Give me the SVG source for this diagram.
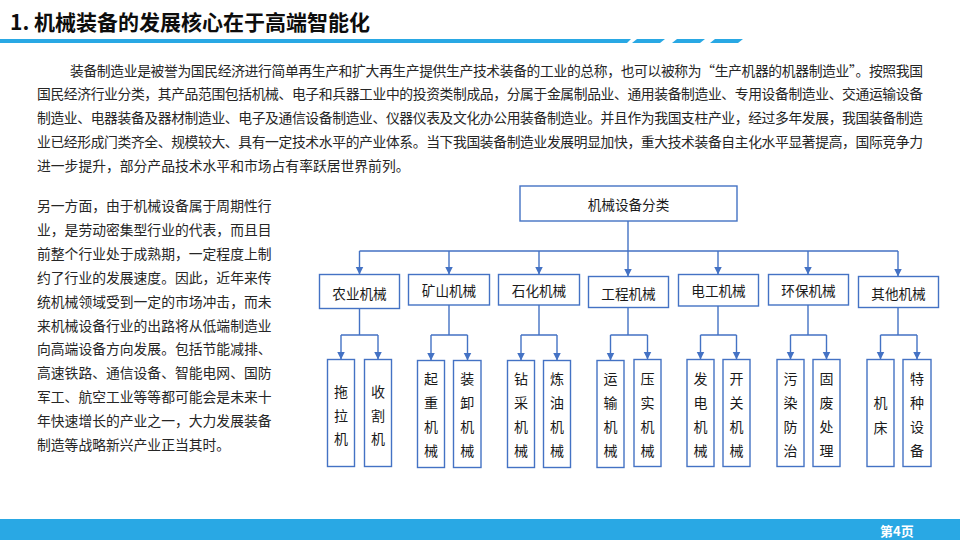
<svg xmlns="http://www.w3.org/2000/svg" width="960" height="540" viewBox="0 0 960 540">
<defs>
<style>
text{font-family:"Noto Sans CJK SC","Microsoft YaHei","Liberation Sans",sans-serif;dominant-baseline:central;fill:#262626}
.title{font-size:21px;font-weight:bold;fill:#0d0d0d;dominant-baseline:auto}
.p{font-size:13.8px}
.box{fill:#fff;stroke:#4472C4;stroke-width:1.4}
.lbl{font-size:13.6px;text-anchor:middle;fill:#1a1a1a}
.v{font-size:14px;text-anchor:middle;fill:#1a1a1a}
.ln{fill:none;stroke:#4472C4;stroke-width:1.4}
.arr{fill:none;stroke:#4472C4;stroke-width:1.4;marker-end:url(#ah)}
.bar{fill:#29A8E4}
</style>
<marker id="ah" markerUnits="userSpaceOnUse" markerWidth="10" markerHeight="10" refX="8" refY="4" orient="auto">
<path d="M0,0 L8,4 L0,8 z" fill="#4472C4"/>
</marker>
</defs>
<rect width="960" height="540" fill="#fff"/>
<g id="header">
<text class="title" x="10" y="30">1. 机械装备的发展核心在于高端智能化</text>
<polygon class="bar" points="0,39 631,39 627,43 0,43"/>
<polygon class="bar" points="632,43 637,39 665,39 660,43"/>
<polygon class="bar" points="672,43 677,39 705,39 700,43"/>
<polygon class="bar" points="710,43 715,39 743,39 738,43"/>
</g>
<g id="intro">
<text class="p" x="70" y="69.5" textLength="853" lengthAdjust="spacing">装备制造业是被誉为国民经济进行简单再生产和扩大再生产提供生产技术装备的工业的总称，也可以被称为“生产机器的机器制造业”。按照我国</text>
<text class="p" x="37" y="93.3" textLength="886" lengthAdjust="spacing">国民经济行业分类，其产品范围包括机械、电子和兵器工业中的投资类制成品，分属于金属制品业、通用装备制造业、专用设备制造业、交通运输设备</text>
<text class="p" x="37" y="117.1" textLength="886" lengthAdjust="spacing">制造业、电器装备及器材制造业、电子及通信设备制造业、仪器仪表及文化办公用装备制造业。并且作为我国支柱产业，经过多年发展，我国装备制造</text>
<text class="p" x="37" y="140.9" textLength="886" lengthAdjust="spacing">业已经形成门类齐全、规模较大、具有一定技术水平的产业体系。当下我国装备制造业发展明显加快，重大技术装备自主化水平显著提高，国际竞争力</text>
<text class="p" x="37" y="164.7">进一步提升，部分产品技术水平和市场占有率跃居世界前列。</text>
</g>
<g id="side">
<text class="p" x="37" y="205">另一方面，由于机械设备属于周期性行</text>
<text class="p" x="37" y="228.9">业，是劳动密集型行业的代表，而且目</text>
<text class="p" x="37" y="252.8">前整个行业处于成熟期，一定程度上制</text>
<text class="p" x="37" y="276.7">约了行业的发展速度。因此，近年来传</text>
<text class="p" x="37" y="300.6">统机械领域受到一定的市场冲击，而未</text>
<text class="p" x="37" y="324.5">来机械设备行业的出路将从低端制造业</text>
<text class="p" x="37" y="348.4">向高端设备方向发展。包括节能减排、</text>
<text class="p" x="37" y="372.3">高速铁路、通信设备、智能电网、国防</text>
<text class="p" x="37" y="396.2">军工、航空工业等等都可能会是未来十</text>
<text class="p" x="37" y="420.1">年快速增长的产业之一，大力发展装备</text>
<text class="p" x="37" y="444">制造等战略新兴产业正当其时。</text>
</g>
<g id="connectors">
<path class="ln" d="M628,221 V251 M359.5,251 H898"/>
<path class="arr" d="M359.5,251 V274.5"/>
<path class="arr" d="M449,251 V274.5"/>
<path class="arr" d="M539,251 V274.5"/>
<path class="arr" d="M628,251 V276.5"/>
<path class="arr" d="M718,251 V274.5"/>
<path class="arr" d="M808,251 V274.5"/>
<path class="arr" d="M898,251 V276.5"/>
<path class="ln" d="M359.5,308.5 V335 M341,335 H378 M449,305 V335 M431,335 H467.5 M539,305 V335 M521,335 H557 M628,307.5 V335 M610.5,335 H647.5 M718,306 V335 M700.5,335 H736.5 M808,305 V335 M790.5,335 H826.5 M898,307.5 V335 M880.5,335 H917"/>
<path class="arr" d="M341,335 V359.5"/>
<path class="arr" d="M378,335 V359.5"/>
<path class="arr" d="M431,335 V360.5"/>
<path class="arr" d="M467.5,335 V360.5"/>
<path class="arr" d="M521,335 V360.5"/>
<path class="arr" d="M557,335 V360.5"/>
<path class="arr" d="M610.5,335 V360.5"/>
<path class="arr" d="M647.5,335 V359.5"/>
<path class="arr" d="M700.5,335 V359.5"/>
<path class="arr" d="M736.5,335 V359.5"/>
<path class="arr" d="M790.5,335 V359.5"/>
<path class="arr" d="M826.5,335 V359.5"/>
<path class="arr" d="M880.5,335 V359.5"/>
<path class="arr" d="M917,335 V359.5"/>
</g>
<g id="root"><rect class="box" x="520" y="186" width="217" height="35"/><text class="lbl" x="628.5" y="203.5">机械设备分类</text></g>
<g id="agri"><rect class="box" x="319.5" y="274.5" width="80" height="34"/><text class="lbl" x="359.5" y="292.5">农业机械</text></g>
<g id="mining"><rect class="box" x="408.5" y="274.5" width="81" height="30.5"/><text class="lbl" x="449" y="290">矿山机械</text></g>
<g id="petro"><rect class="box" x="498.5" y="274.5" width="81" height="30.5"/><text class="lbl" x="539" y="290">石化机械</text></g>
<g id="eng"><rect class="box" x="588.5" y="276.5" width="80" height="31"/><text class="lbl" x="628.5" y="293">工程机械</text></g>
<g id="elec"><rect class="box" x="678.5" y="274.5" width="80" height="31.5"/><text class="lbl" x="718.5" y="290">电工机械</text></g>
<g id="env"><rect class="box" x="768.5" y="274.5" width="80" height="30.5"/><text class="lbl" x="808.5" y="290">环保机械</text></g>
<g id="other"><rect class="box" x="858.5" y="276.5" width="80" height="31"/><text class="lbl" x="898.5" y="293">其他机械</text></g>
<g id="tractor"><rect class="box" x="327.5" y="359.5" width="27" height="107"/><text class="v" x="341" y="390.7">拖</text><text class="v" x="341" y="414.5">拉</text><text class="v" x="341" y="438.3">机</text></g>
<g id="harvester"><rect class="box" x="364.5" y="359.5" width="27" height="107"/><text class="v" x="378" y="390.7">收</text><text class="v" x="378" y="414.5">割</text><text class="v" x="378" y="438.3">机</text></g>
<g id="crane"><rect class="box" x="417.5" y="360.5" width="27" height="107"/><text class="v" x="431" y="378.3">起</text><text class="v" x="431" y="402.2">重</text><text class="v" x="431" y="426.1">机</text><text class="v" x="431" y="450">械</text></g>
<g id="loader"><rect class="box" x="453.5" y="360.5" width="27.5" height="107"/><text class="v" x="467.3" y="378.3">装</text><text class="v" x="467.3" y="402.2">卸</text><text class="v" x="467.3" y="426.1">机</text><text class="v" x="467.3" y="450">械</text></g>
<g id="drill"><rect class="box" x="507.5" y="360.5" width="27" height="107"/><text class="v" x="521" y="378.3">钻</text><text class="v" x="521" y="402.2">采</text><text class="v" x="521" y="426.1">机</text><text class="v" x="521" y="450">械</text></g>
<g id="refine"><rect class="box" x="543.5" y="360.5" width="27" height="107"/><text class="v" x="557" y="378.3">炼</text><text class="v" x="557" y="402.2">油</text><text class="v" x="557" y="426.1">机</text><text class="v" x="557" y="450">械</text></g>
<g id="transport"><rect class="box" x="597" y="360.5" width="27" height="107"/><text class="v" x="610.5" y="378.3">运</text><text class="v" x="610.5" y="402.2">输</text><text class="v" x="610.5" y="426.1">机</text><text class="v" x="610.5" y="450">械</text></g>
<g id="compact"><rect class="box" x="634" y="359.5" width="27" height="107"/><text class="v" x="647.5" y="378.3">压</text><text class="v" x="647.5" y="402.2">实</text><text class="v" x="647.5" y="426.1">机</text><text class="v" x="647.5" y="450">械</text></g>
<g id="generator"><rect class="box" x="687" y="359.5" width="27" height="107"/><text class="v" x="700.5" y="378.3">发</text><text class="v" x="700.5" y="402.2">电</text><text class="v" x="700.5" y="426.1">机</text><text class="v" x="700.5" y="450">械</text></g>
<g id="switch"><rect class="box" x="723" y="359.5" width="27" height="107"/><text class="v" x="736.5" y="378.3">开</text><text class="v" x="736.5" y="402.2">关</text><text class="v" x="736.5" y="426.1">机</text><text class="v" x="736.5" y="450">械</text></g>
<g id="pollution"><rect class="box" x="777" y="359.5" width="27" height="107"/><text class="v" x="790.5" y="378.3">污</text><text class="v" x="790.5" y="402.2">染</text><text class="v" x="790.5" y="426.1">防</text><text class="v" x="790.5" y="450">治</text></g>
<g id="waste"><rect class="box" x="813" y="359.5" width="27" height="107"/><text class="v" x="826.5" y="378.3">固</text><text class="v" x="826.5" y="402.2">废</text><text class="v" x="826.5" y="426.1">处</text><text class="v" x="826.5" y="450">理</text></g>
<g id="machinetool"><rect class="box" x="867" y="359.5" width="27" height="107"/><text class="v" x="880.5" y="402">机</text><text class="v" x="880.5" y="426.5">床</text></g>
<g id="special"><rect class="box" x="903" y="359.5" width="28" height="107"/><text class="v" x="917" y="378.3">特</text><text class="v" x="917" y="402.2">种</text><text class="v" x="917" y="426.1">设</text><text class="v" x="917" y="450">备</text></g>
<g id="footer">
<rect class="bar" x="0" y="519" width="960" height="21"/>
<text x="880" y="530" style="font-size:13px;font-weight:bold;fill:#fff">第4页</text>
</g>
</svg>
